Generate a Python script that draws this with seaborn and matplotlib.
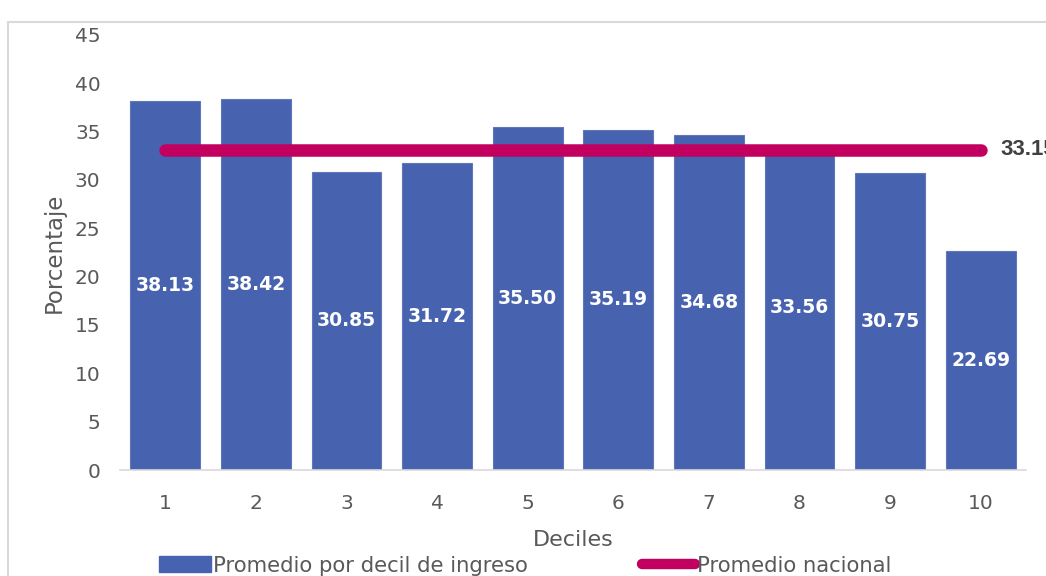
import matplotlib
matplotlib.use("Agg")
import matplotlib.pyplot as plt
import seaborn as sns
import pandas as pd
import numpy as np
from matplotlib.patches import Rectangle
from matplotlib.lines import Line2D
from matplotlib.patches import Patch

deciles = ["1", "2", "3", "4", "5", "6", "7", "8", "9", "10"]
promedio_decil = [38.13, 38.42, 30.85, 31.72, 35.50, 35.19, 34.68, 33.56, 30.75, 22.69]
promedio_nacional = 33.15
yticks = [0, 5, 10, 15, 20, 25, 30, 35, 40, 45]

bar_color = "#4762AF"
line_color = "#C2005F"
text_gray = "#595959"

sns.set_theme(style="white")
plt.rcParams["font.family"] = ["DejaVu Sans"]

fig = plt.figure(figsize=(10.46, 5.76), dpi=100)
ax = fig.add_axes([120 / 1046, 1 - 470 / 576, 906 / 1046, 435 / 576])

df = pd.DataFrame({"Deciles": deciles, "Porcentaje": promedio_decil})
sns.barplot(data=df, x="Deciles", y="Porcentaje", color=bar_color, saturation=1,
            width=0.77, ax=ax, zorder=2, edgecolor="#6077BB", linewidth=0.8)

xpos = np.arange(len(deciles))
nat_df = pd.DataFrame({"x": xpos, "y": [promedio_nacional] * len(deciles)})
sns.lineplot(data=nat_df, x="x", y="y", color=line_color, linewidth=9, ax=ax,
             zorder=3, solid_capstyle="round")

for i, v in enumerate(promedio_decil):
    ax.text(i, v / 2, f"{v:.2f}", ha="center", va="center", color="white",
            fontsize=13.5, fontweight="bold", zorder=4)

ax.text(xpos[-1] + 0.22, promedio_nacional, f"{promedio_nacional:.2f}", ha="left",
        va="center", color="#404040", fontsize=16, fontweight="bold",
        family=["Liberation Sans", "DejaVu Sans"], clip_on=False)

ax.set_xlim(-0.5, len(deciles) - 0.5)
ax.set_ylim(0, 45)
ax.set_yticks(yticks)
ax.set_yticklabels([str(t) for t in yticks])
for s in ["top", "right", "left"]:
    ax.spines[s].set_visible(False)
ax.spines["bottom"].set_color("#D9D9D9")
ax.spines["bottom"].set_linewidth(1.2)
ax.tick_params(axis="both", length=0, labelsize=14.5, colors=text_gray)
ax.tick_params(axis="x", pad=17)
ax.tick_params(axis="y", pad=14)
ax.set_xlabel("Deciles", fontsize=16, color=text_gray)
ax.set_ylabel("Porcentaje", fontsize=16.5, color=text_gray)
ax.yaxis.set_label_coords(-0.06, 0.5)
ax.xaxis.set_label_coords(0.5, -0.138)

handles = [Patch(facecolor=bar_color, edgecolor=bar_color),
           Line2D([0], [0], color=line_color, linewidth=7.5, solid_capstyle="round")]
labels = ["Promedio por decil de ingreso", "Promedio nacional"]
leg = fig.legend(handles, labels, loc="center", bbox_to_anchor=(0.502, 0.018), ncol=2,
                 frameon=False, fontsize=15.2, labelcolor=text_gray, columnspacing=5.4,
                 handlelength=2.5, handletextpad=0.1, handleheight=0.8)

frame = Rectangle((8 / 1046, -0.1), 1.2, 1 - 22 / 576 + 0.1, transform=fig.transFigure,
                  fill=False, edgecolor="#D9D9D9", linewidth=1.5, zorder=0)
fig.patches.append(frame)

fig.savefig("out.png", dpi=100)
